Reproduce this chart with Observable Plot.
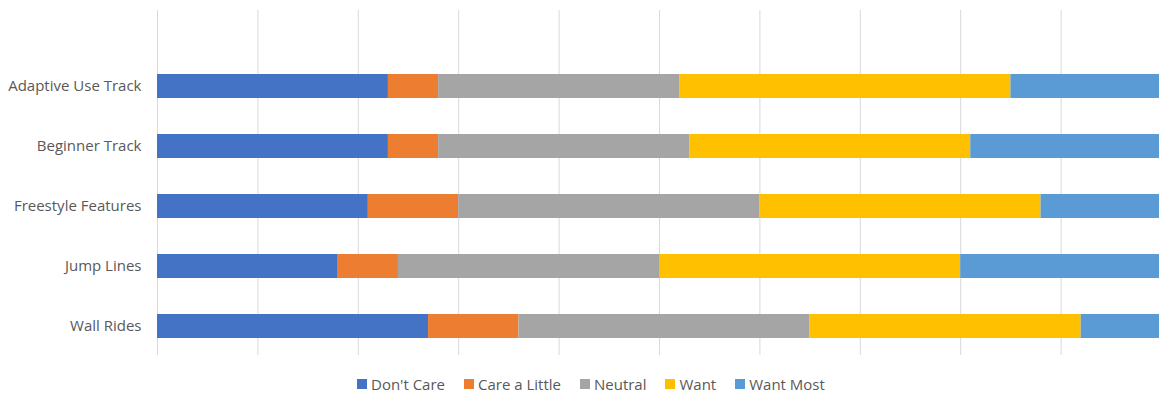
<!DOCTYPE html>
<html>
<head>
<meta charset="utf-8">
<script src="https://cdn.jsdelivr.net/npm/d3@7"></script>
<script src="https://cdn.jsdelivr.net/npm/@observablehq/plot@0.6"></script>
<style>
  html, body { margin: 0; padding: 0; background: #fff; overflow: hidden; }
  #chart { width: 1159px; }
  .legend { display: flex; justify-content: flex-start; padding-left: 357px; margin-top: 12px;
            font-family: "Open Sans", sans-serif; font-size: 15px; color: #595959; }
  .legend .item { display: flex; align-items: center; margin-right: 19px; }
  .legend .sw { width: 10px; height: 10px; margin-right: 4px; display: inline-block; }
</style>
</head>
<body>
<div id="chart"></div>
<script>
const categories = ["Adaptive Use Track", "Beginner Track", "Freestyle Features", "Jump Lines", "Wall Rides"];
const seriesNames = ["Don't Care", "Care a Little", "Neutral", "Want", "Want Most"];
const seriesColors = ["#4472C4", "#ED7D31", "#A5A5A5", "#FFC000", "#5B9BD5"];
const dontCare    = [2.3, 2.3, 2.1, 1.8, 2.7];
const careLittle  = [0.5, 0.5, 0.9, 0.6, 0.9];
const neutral     = [2.4, 2.5, 3.0, 2.6, 2.9];
const want        = [3.3, 2.8, 2.8, 3.0, 2.7];
const wantMost    = [3.5, 3.9, 3.2, 4.0, 2.8];
const gridTicks   = [0, 1, 2, 3, 4, 5, 6, 7, 8, 9];

const seriesValues = [dontCare, careLittle, neutral, want, wantMost];
const rows = [];
seriesNames.forEach((s, si) => {
  categories.forEach((c, ci) => rows.push({category: c, series: s, value: seriesValues[si][ci]}));
});

const chart = Plot.plot({
  width: 1159,
  height: 362,
  marginLeft: 157,
  marginRight: 0,
  marginTop: 10,
  marginBottom: 7,
  style: {fontFamily: "Open Sans, sans-serif", fontSize: "15px", color: "#595959", background: "#fff"},
  x: {domain: [0, 9.98], axis: null},
  y: {domain: categories, range: [56, 356], paddingInner: 0.6, paddingOuter: 0.3, label: null},
  color: {domain: seriesNames, range: seriesColors},
  marks: [
    Plot.ruleX(gridTicks, {stroke: "#d9d9d9", strokeWidth: 1}),
    Plot.barX(rows, Plot.stackX({x: "value", y: "category", fill: "series", order: seriesNames, clip: true})),
    Plot.axisY({tickSize: 0, tickPadding: 16, label: null, fill: "#595959"})
  ]
});
document.getElementById("chart").appendChild(chart);

const legend = document.createElement("div");
legend.className = "legend";
seriesNames.forEach((s, i) => {
  const it = document.createElement("div");
  it.className = "item";
  const sw = document.createElement("span");
  sw.className = "sw";
  sw.style.background = seriesColors[i];
  it.appendChild(sw);
  it.appendChild(document.createTextNode(s));
  legend.appendChild(it);
});
document.getElementById("chart").appendChild(legend);
</script>
</body>
</html>
